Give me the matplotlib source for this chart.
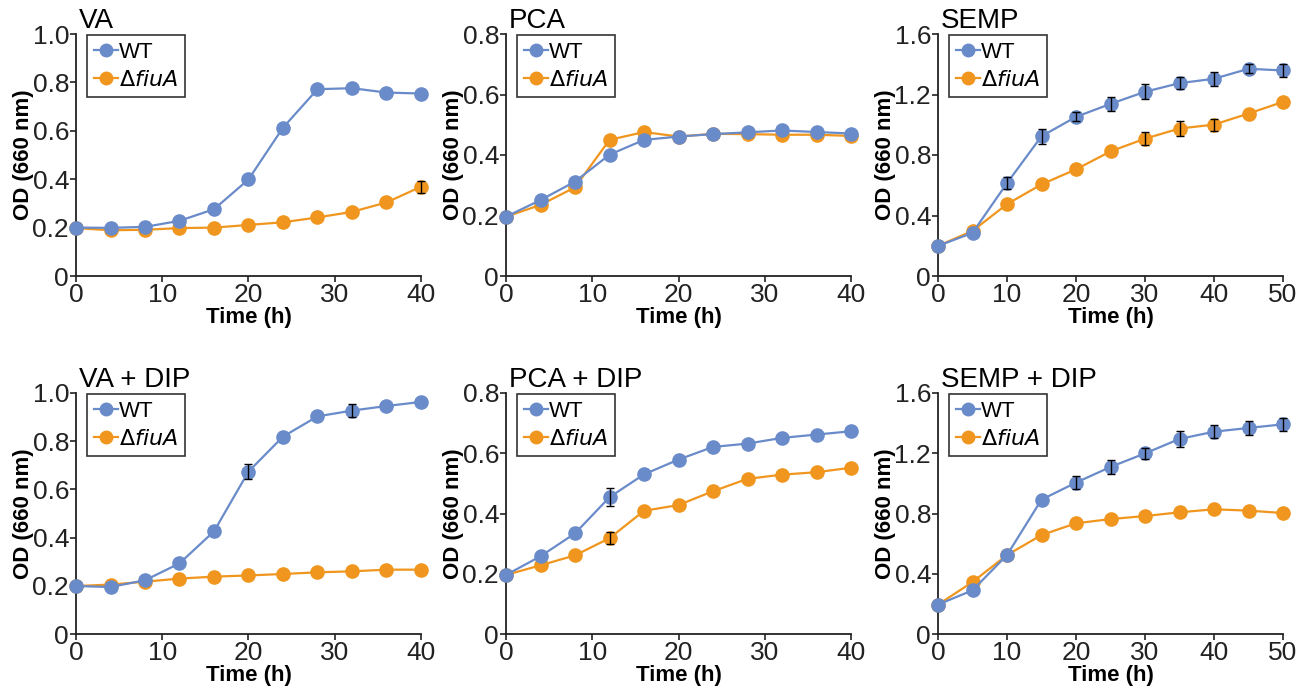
import matplotlib
matplotlib.use("Agg")
import matplotlib.pyplot as plt
from matplotlib.lines import Line2D

plt.rcParams['font.family'] = ['Liberation Sans', 'DejaVu Sans']

BLUE = '#6a8bc9'
ORANGE = '#f0961e'

# time points
t40 = [0, 4, 8, 12, 16, 20, 24, 28, 32, 36, 40]
t50 = [0, 5, 10, 15, 20, 25, 30, 35, 40, 45, 50]

# VA
va_wt = [0.200, 0.199, 0.203, 0.228, 0.276, 0.399, 0.613, 0.772, 0.776, 0.758, 0.754]
va_wt_err = [0, 0, 0, 0, 0, 0, 0, 0, 0, 0, 0]
va_fiu = [0.198, 0.189, 0.191, 0.198, 0.200, 0.211, 0.222, 0.242, 0.265, 0.304, 0.369]
va_fiu_err = [0, 0, 0, 0, 0, 0, 0, 0, 0, 0, 0.025]

# PCA
pca_wt = [0.196, 0.251, 0.312, 0.401, 0.450, 0.461, 0.469, 0.475, 0.481, 0.476, 0.471]
pca_wt_err = [0] * 11
pca_fiu = [0.196, 0.235, 0.293, 0.450, 0.476, 0.461, 0.470, 0.469, 0.467, 0.467, 0.463]
pca_fiu_err = [0] * 11

# SEMP
semp_wt = [0.199, 0.285, 0.614, 0.924, 1.052, 1.138, 1.218, 1.275, 1.304, 1.370, 1.359]
semp_wt_err = [0, 0, 0.04, 0.05, 0.03, 0.045, 0.05, 0.04, 0.045, 0.03, 0.04]
semp_fiu = [0.199, 0.298, 0.475, 0.606, 0.705, 0.824, 0.908, 0.975, 1.001, 1.074, 1.151]
semp_fiu_err = [0, 0, 0, 0, 0, 0, 0.045, 0.05, 0.04, 0, 0]

# VA + DIP
vad_wt = [0.199, 0.195, 0.223, 0.293, 0.426, 0.674, 0.819, 0.903, 0.927, 0.946, 0.963]
vad_wt_err = [0, 0, 0, 0, 0, 0.032, 0, 0, 0.028, 0, 0]
vad_fiu = [0.199, 0.205, 0.217, 0.230, 0.238, 0.243, 0.249, 0.256, 0.260, 0.267, 0.267]
vad_fiu_err = [0] * 11

# PCA + DIP
pcad_wt = [0.196, 0.258, 0.334, 0.454, 0.530, 0.579, 0.621, 0.632, 0.651, 0.662, 0.673]
pcad_wt_err = [0, 0, 0, 0.03, 0, 0, 0, 0, 0, 0, 0]
pcad_fiu = [0.196, 0.228, 0.261, 0.318, 0.409, 0.428, 0.474, 0.515, 0.529, 0.537, 0.552]
pcad_fiu_err = [0, 0, 0, 0.02, 0, 0, 0, 0, 0, 0, 0]

# SEMP + DIP
sempd_wt = [0.195, 0.290, 0.524, 0.892, 1.005, 1.109, 1.199, 1.295, 1.343, 1.368, 1.392]
sempd_wt_err = [0, 0, 0, 0, 0.045, 0.045, 0.035, 0.055, 0.045, 0.045, 0.045]
sempd_fiu = [0.195, 0.345, 0.524, 0.657, 0.735, 0.763, 0.783, 0.808, 0.828, 0.819, 0.803]
sempd_fiu_err = [0] * 11

yt_va = [0, 0.2, 0.4, 0.6, 0.8, 1.0]
ytl_va = ["0", "0.2", "0.4", "0.6", "0.8", "1.0"]
yt_pca = [0, 0.2, 0.4, 0.6, 0.8]
ytl_pca = ["0", "0.2", "0.4", "0.6", "0.8"]
yt_semp = [0, 0.4, 0.8, 1.2, 1.6]
ytl_semp = ["0", "0.4", "0.8", "1.2", "1.6"]

panels = [
    ("VA", t40, va_wt, va_wt_err, va_fiu, va_fiu_err, 1.0, yt_va, ytl_va, 40),
    ("PCA", t40, pca_wt, pca_wt_err, pca_fiu, pca_fiu_err, 0.8, yt_pca, ytl_pca, 40),
    ("SEMP", t50, semp_wt, semp_wt_err, semp_fiu, semp_fiu_err, 1.6, yt_semp, ytl_semp, 50),
    ("VA + DIP", t40, vad_wt, vad_wt_err, vad_fiu, vad_fiu_err, 1.0, yt_va, ytl_va, 40),
    ("PCA + DIP", t40, pcad_wt, pcad_wt_err, pcad_fiu, pcad_fiu_err, 0.8, yt_pca, ytl_pca, 40),
    ("SEMP + DIP", t50, sempd_wt, sempd_wt_err, sempd_fiu, sempd_fiu_err, 1.6, yt_semp, ytl_semp, 50),
]


def draw_err(ax, t, y, e):
    # only the points that actually have a visible error bar
    pts = [(a, b, c) for a, b, c in zip(t, y, e) if c > 0]
    if not pts:
        return
    xs, ys, es = zip(*pts)
    ax.errorbar(xs, ys, yerr=es, fmt='none', ecolor='black', elinewidth=1,
                capsize=3, capthick=1, zorder=5)


fig = plt.figure(figsize=(13.11, 6.93), dpi=100)
W, H = 1311, 693
lefts = [76, 506, 938]
axw = 345
rows = [(34, 276), (393, 634)]

for i, (title, t, wt, wte, fiu, fiue, ymax, yt, ytl, xmax) in enumerate(panels):
    r, c = divmod(i, 3)
    top, bot = rows[r]
    ax = fig.add_axes([lefts[c] / W, 1 - bot / H, axw / W, (bot - top) / H])
    ax.plot(t, fiu, color=ORANGE, marker='o', markersize=9.5, lw=1.6, zorder=2)
    ax.plot(t, wt, color=BLUE, marker='o', markersize=9.5, lw=1.6, zorder=3)
    draw_err(ax, t, fiu, fiue)
    draw_err(ax, t, wt, wte)
    ax.set_xlim(0, xmax)
    ax.set_ylim(0, ymax)
    ax.set_yticks(yt)
    ax.set_yticklabels(ytl)
    ax.set_xticks(range(0, xmax + 1, 10))
    for s in ['top', 'right']:
        ax.spines[s].set_visible(False)
    for s in ['left', 'bottom']:
        ax.spines[s].set_color('#222222')
        ax.spines[s].set_linewidth(1.3)
    ax.tick_params(direction='out', length=4, width=1.2, color='#222222',
                   labelsize=19, labelcolor='#222222', pad=1)
    ax.set_xlabel('Time (h)', fontsize=16, fontweight='bold', labelpad=0)
    ax.set_ylabel('OD (660 nm)', fontsize=16, fontweight='bold', labelpad=-1)
    ax.set_title(title, loc='left', fontsize=20, pad=3, x=0.008)
    for a in ax.get_children():
        a.set_clip_on(False)
    handles = [
        Line2D([], [], color=BLUE, marker='o', markersize=9, lw=1.6),
        Line2D([], [], color=ORANGE, marker='o', markersize=9, lw=1.6),
    ]
    leg = ax.legend(handles, ['WT', r'$\Delta$$\it{fiuA}$'], loc='upper left',
                    bbox_to_anchor=(11 / axw, 0.995),
                    borderaxespad=0, frameon=True, fancybox=False, fontsize=16,
                    handlelength=1.1, handletextpad=0.05, borderpad=0.3, labelspacing=0.3)
    leg.get_frame().set_edgecolor('black')
    leg.get_frame().set_linewidth(1.2)

fig.savefig('out.png', dpi=100)
